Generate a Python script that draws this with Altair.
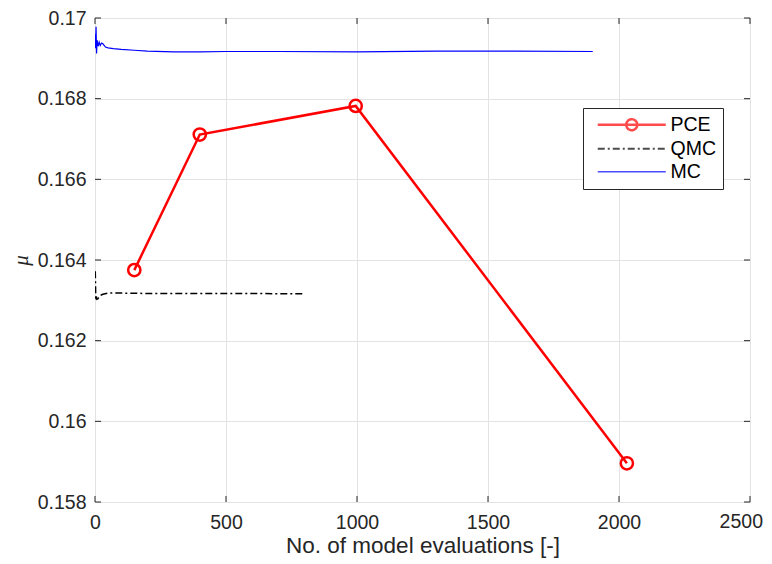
import altair as alt
import pandas as pd

# ---------------- data ----------------
series_names = ["PCE", "QMC", "MC"]

pce_x = [150, 400, 995, 2030]
pce_y = [0.16375, 0.16711, 0.16782, 0.15896]

qmc_x = [1, 2, 3, 5, 8, 12, 20, 30, 50, 100, 200, 400, 600, 800]
qmc_y = [0.16372, 0.16340, 0.16300, 0.16310, 0.16298, 0.16305, 0.16312,
         0.16315, 0.16318, 0.16318, 0.16317, 0.16317, 0.16317, 0.16316]

mc_x = [1, 2, 4, 6, 8, 12, 16, 20, 25, 30, 40, 50, 70, 100, 150, 200, 300,
        400, 500, 700, 1000, 1300, 1600, 1900]
mc_y = [0.16960, 0.16925, 0.16978, 0.16912, 0.16945, 0.16930, 0.16940,
        0.16932, 0.16938, 0.16936, 0.16928, 0.16926, 0.16924, 0.16922,
        0.16920, 0.16918, 0.16916, 0.16916, 0.16917, 0.16917, 0.16916,
        0.16918, 0.16918, 0.16917]

x_ticks = [0, 500, 1000, 1500, 2000, 2500]
y_ticks = [0.158, 0.16, 0.162, 0.164, 0.166, 0.168, 0.17]

# ---------------- tables ----------------
pce_df = pd.DataFrame({"x": pce_x, "y": pce_y, "i": range(len(pce_x))})
qmc_df = pd.DataFrame({"x": qmc_x, "y": qmc_y, "i": range(len(qmc_x))})
mc_df = pd.DataFrame({"x": mc_x, "y": mc_y, "i": range(len(mc_x))})
legend_df = pd.DataFrame({"series": series_names, "x": [0, 0, 0], "y": [0.16, 0.16, 0.16]})
xt_df = pd.DataFrame({"v": x_ticks})
yt_df = pd.DataFrame({"v": y_ticks})
last_df = pd.DataFrame({"v": [x_ticks[-1]], "t": [str(x_ticks[-1])]})

W, H = 655, 484
FONT = "Liberation Sans"
AX = "#262626"
RED, BLACK, BLUE = "#ff0000", "#000000", "#0000ff"
QMC_DASH = [7, 3, 2, 3]
LABEL_SIZE = 19.5
X_LABEL_PAD = 11

xscale = alt.Scale(domain=[0, 2500], nice=False, zero=False)
yscale = alt.Scale(domain=[0.158, 0.17], nice=False, zero=False)

color_scale = alt.Scale(domain=series_names, range=[RED, BLACK, BLUE])
dash_scale = alt.Scale(domain=series_names, range=[[1, 0], QMC_DASH, [1, 0]])
width_scale = alt.Scale(domain=series_names, range=[2.5, 1.5, 1.2])
shape_scale = alt.Scale(
    domain=series_names,
    range=[
        "M-6.8,0H6.8M1.1,0A1.1,1.1,0,1,1,-1.1,0A1.1,1.1,0,1,1,1.1,0",
        "M-6.8,0H6.8",
        "M-6.8,0H6.8",
    ],
)

x_axis = alt.Axis(values=x_ticks, format="d", grid=True, gridColor="#e3e3e3",
                  domain=False, ticks=False, labelFont=FONT, labelFontSize=LABEL_SIZE,
                  labelColor=AX, labelPadding=X_LABEL_PAD, labelFlush=False,
                  labelExpr="datum.value == 2500 ? '' : datum.label",
                  title="No. of model evaluations [-]", titleFont=FONT,
                  titleFontSize=22.5, titleFontWeight="normal", titleColor=AX,
                  titlePadding=3)
y_axis = alt.Axis(values=y_ticks, format=".3~f", grid=True, gridColor="#e3e3e3",
                  domain=False, ticks=False, labelFont=FONT, labelFontSize=LABEL_SIZE,
                  labelColor=AX, labelPadding=9, labelFlush=False,
                  title="μ", titleFont="Liberation Serif", titleFontStyle="italic",
                  titleFontSize=21, titleFontWeight="normal", titleColor=AX,
                  titlePadding=6)

X = alt.X("x:Q", scale=xscale, axis=x_axis)
Y = alt.Y("y:Q", scale=yscale, axis=y_axis)

leg = alt.Legend(
    title=None, orient="none", legendX=488, legendY=90,
    fillColor="white", strokeColor=AX, padding=7,
    labelFont=FONT, labelFontSize=LABEL_SIZE, labelColor="black",
    symbolSize=100, symbolOffset=32, labelOffset=29, rowPadding=2,
    cornerRadius=0,
)

# legend-only layer (no rows drawn; entries come from the scale domains)
legend_layer = alt.Chart(legend_df).transform_filter("datum.x < 0").mark_point(
    filled=False
).encode(
    x=alt.X("x:Q", scale=xscale),
    y=alt.Y("y:Q", scale=yscale),
    shape=alt.Shape("series:N", scale=shape_scale, legend=leg),
    color=alt.Color("series:N", scale=color_scale, legend=leg),
    strokeDash=alt.StrokeDash("series:N", scale=dash_scale, legend=leg),
    strokeWidth=alt.StrokeWidth("series:N", scale=width_scale, legend=leg),
)

mc_line = alt.Chart(mc_df).mark_line(color=BLUE, strokeWidth=1.2, clip=True).encode(
    x=X, y=Y, order="i:Q")
qmc_line = alt.Chart(qmc_df).mark_line(color=BLACK, strokeWidth=1.5,
                                       strokeDash=QMC_DASH, clip=True).encode(
    x=alt.X("x:Q", scale=xscale), y=alt.Y("y:Q", scale=yscale), order="i:Q")
pce_line = alt.Chart(pce_df).mark_line(color=RED, strokeWidth=2.5, clip=True).encode(
    x=alt.X("x:Q", scale=xscale), y=alt.Y("y:Q", scale=yscale), order="i:Q")
pce_pts = alt.Chart(pce_df).mark_point(
    shape="circle", filled=False, color=RED, size=150, strokeWidth=2.5, opacity=1
).encode(x=alt.X("x:Q", scale=xscale), y=alt.Y("y:Q", scale=yscale))

# last x tick label, pulled in slightly so it stays inside the page
last_label = alt.Chart(last_df).mark_text(
    font=FONT, fontSize=LABEL_SIZE, color=AX, align="right", baseline="top", dx=13
).encode(x=alt.X("v:Q", scale=xscale), y=alt.value(H + X_LABEL_PAD), text="t:N")

# inner tick marks (MATLAB-style box axes)
tb = alt.Chart(xt_df).mark_rule(color=AX, strokeWidth=1).encode(
    x=alt.X("v:Q", scale=xscale), y=alt.value(H), y2=alt.value(H - 6))
tt = alt.Chart(xt_df).mark_rule(color=AX, strokeWidth=1).encode(
    x=alt.X("v:Q", scale=xscale), y=alt.value(0), y2=alt.value(6))
tl = alt.Chart(yt_df).mark_rule(color=AX, strokeWidth=1).encode(
    y=alt.Y("v:Q", scale=yscale), x=alt.value(0), x2=alt.value(6))
tr = alt.Chart(yt_df).mark_rule(color=AX, strokeWidth=1).encode(
    y=alt.Y("v:Q", scale=yscale), x=alt.value(W), x2=alt.value(W - 6))

chart = alt.layer(mc_line, legend_layer, tb, tt, tl, tr, qmc_line, pce_line, pce_pts,
                  last_label).properties(
    width=W, height=H,
    autosize=alt.AutoSizeParams(type="none"),
    padding={"left": 87, "top": 10, "right": 14, "bottom": 56},
).configure_view(stroke=AX, strokeWidth=1.2).configure(background="white")

chart.save("out.html", embed_options={"renderer": "svg", "actions": False})
